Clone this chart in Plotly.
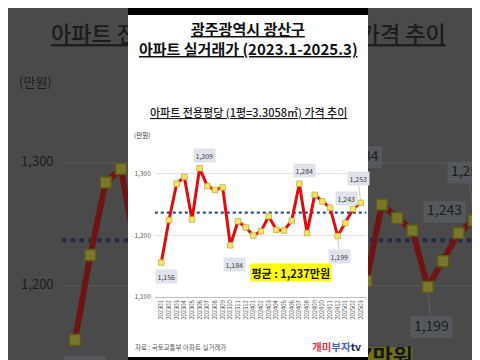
import plotly.graph_objects as go

# ---------------- data ----------------
months = ["202301", "202302", "202303", "202304", "202305", "202306", "202307", "202308", "202309",
          "202310", "202311", "202312", "202401", "202402", "202403", "202404", "202405", "202406",
          "202407", "202408", "202409", "202410", "202411", "202412", "202501", "202502", "202503"]
prices = [1156, 1225, 1284, 1295, 1226, 1309, 1280, 1274, 1278, 1184, 1223, 1213, 1200, 1207,
          1231, 1209, 1208, 1224, 1284, 1204, 1266, 1255, 1245, 1199, 1220, 1243, 1253]
y_tick_vals = [1100, 1200, 1300]
y_tick_text = ["1,100", "1,200", "1,300"]
title_lines = ["광주광역시 광산구", "아파트 실거래가 (2023.1-2025.3)"]
subtitle = "아파트 전용평당 (1평=3.3058㎡) 가격 추이"
unit_label = "(만원)"
source_text = "자료 : 국토교통부 아파트 실거래가"

# label placement (pixel offsets from the point; style only)
label_offsets = {"202301": (4.7, 13.7, False), "202306": (5.3, -13, False), "202310": (3.7, 18.7, False),
                 "202407": (5, -12.8, False), "202412": (1.8, 20.2, True), "202502": (-7, -10.8, False),
                 "202503": (-2.7, -24.3, True)}

FONT = "Noto Sans CJK KR"
W, H = 480, 360

# ---------------- geometry of main chart ----------------
X0, DX = 153.3, 7.67      # pixel of first category, pixels per category
YB, KY = 292.3, 0.623     # pixel of 1100, pixels per unit
XR = [-0.85, 26.75]
YR = [1100, 1340]
CX, CY = 239.6, 179.0     # background = 2x zoom: bg_px = 2*main_px - C

def ix(p): return (p - X0) / DX
def vy(p): return 1100 + (YB - p) / KY
def px_i(i): return X0 + DX * i
def py_v(v): return YB - KY * (v - 1100)
def bg2main(xc, yc): return ((xc + CX) / 2, (yc + CY) / 2)

idx = list(range(len(months)))
avg = round(sum(prices) / len(prices))

# colours
RED, MFILL, MEDGE = "#e00b0b", "#f6e46a", "#c4ac3c"
AVGC, GRID, AXIS = "#2f4e8c", "#e3e3e3", "#bfbfbf"
LBOX, LTXT, TTXT = "#dfe4eb", "#404040", "#595959"
BG, BG_RED, BG_MF, BG_ME = "#4a4a4a", "#6e1414", "#7a762a", "#5c581e"
BG_AVG, BG_GRID, BG_BOX, BG_TXT, BG_YEL = "#222c46", "#525252", "#55585d", "#1b1b1b", "#72720e"

fig = go.Figure()
bgax = dict(xaxis="x", yaxis="y", hoverinfo="skip", showlegend=False)

# ---------- blurred/zoomed background copy (x/y axes) ----------
for v in y_tick_vals:
    fig.add_trace(go.Scatter(x=XR, y=[v, v], mode="lines", line=dict(color=BG_GRID, width=1.6), **bgax))
fig.add_trace(go.Scatter(x=XR, y=[avg, avg], mode="lines",
                         line=dict(color=BG_AVG, width=4.4, dash="dot"), **bgax))
for m, (dx, dy, lead) in label_offsets.items():
    if lead:
        k = months.index(m)
        cx_, cy_ = ix(px_i(k) + dx), vy(py_v(prices[k]) + dy)
        fig.add_trace(go.Scatter(x=[k, cx_], y=[prices[k], cy_], mode="lines",
                                 line=dict(color="#5e5e5e", width=1.2), **bgax))
fig.add_trace(go.Scatter(x=idx, y=prices, mode="lines+markers",
                         line=dict(color=BG_RED, width=6),
                         marker=dict(symbol="square", size=11, color=BG_MF, line=dict(color=BG_ME, width=1.5)),
                         **bgax))
bx, by, tx, ty, tt = [], [], [], [], []
hw, hh = 10.5 / DX, 5.5 / KY
for m, (dx, dy, lead) in label_offsets.items():
    k = months.index(m)
    cx_, cy_ = ix(px_i(k) + dx), vy(py_v(prices[k]) + dy)
    bx += [cx_ - hw, cx_ + hw, cx_ + hw, cx_ - hw, cx_ - hw, None]
    by += [cy_ - hh, cy_ - hh, cy_ + hh, cy_ + hh, cy_ - hh, None]
    tx.append(cx_); ty.append(cy_); tt.append(f"{prices[k]:,}")
fig.add_trace(go.Scatter(x=bx, y=by, mode="lines", fill="toself", fillcolor=BG_BOX,
                         line=dict(width=0, color=BG_BOX), **bgax))
fig.add_trace(go.Scatter(x=tx, y=ty, mode="text", text=tt, textposition="middle center",
                         textfont=dict(family=FONT, size=14, color=BG_TXT), **bgax))
fig.add_trace(go.Scatter(x=[ix(142.6)] * 3, y=y_tick_vals, mode="text", text=y_tick_text,
                         textposition="middle left", textfont=dict(family=FONT, size=13, color=BG_TXT), **bgax))
fig.add_trace(go.Scatter(x=[ix(133.5)], y=[vy(128)], mode="text", text=[unit_label],
                         textposition="middle center", textfont=dict(family=FONT, size=13, color=BG_TXT), **bgax))
fig.add_trace(go.Scatter(x=[ix(240)], y=[vy(104)], mode="text", text=[subtitle],
                         textposition="middle center",
                         textfont=dict(family=FONT, size=22, color=BG_TXT, weight=500, lineposition="under"),
                         **bgax))
ahw, ahh = 39 / DX, 6 / KY
acx, acy = ix(283), vy(267)
fig.add_trace(go.Scatter(x=[acx - ahw, acx + ahw, acx + ahw, acx - ahw, acx - ahw],
                         y=[acy - ahh, acy - ahh, acy + ahh, acy + ahh, acy - ahh],
                         mode="lines", fill="toself", fillcolor=BG_YEL, line=dict(width=0, color=BG_YEL), **bgax))
fig.add_trace(go.Scatter(x=[acx], y=[acy], mode="text", text=[f"평균 : {avg:,}만원"],
                         textposition="middle center",
                         textfont=dict(family=FONT, size=22, color="#15152a", weight="bold"), **bgax))
# white panel
p0 = bg2main(120, -10); p1 = bg2main(360, 370)
fig.add_trace(go.Scatter(x=[ix(p0[0]), ix(p1[0]), ix(p1[0]), ix(p0[0]), ix(p0[0])],
                         y=[vy(p0[1]), vy(p0[1]), vy(p1[1]), vy(p1[1]), vy(p0[1])],
                         mode="lines", fill="toself", fillcolor="#ffffff", line=dict(width=0, color="#ffffff"),
                         **bgax))

# ---------- main chart (x2/y2) ----------
fig.add_trace(go.Scatter(x=XR, y=[avg, avg], mode="lines", xaxis="x2", yaxis="y2",
                         line=dict(color=AVGC, width=2.2, dash="dot"), hoverinfo="skip", showlegend=False))
fig.add_trace(go.Scatter(x=idx, y=prices, mode="lines+markers", xaxis="x2", yaxis="y2",
                         line=dict(color=RED, width=3),
                         marker=dict(symbol="square", size=5.5, color=MFILL, line=dict(color=MEDGE, width=0.8)),
                         hoverinfo="skip", showlegend=False))

ann = []
for m, (dx, dy, lead) in label_offsets.items():
    k = months.index(m)
    ann.append(dict(x=k, y=prices[k], xref="x2", yref="y2", text=f"{prices[k]:,}",
                    showarrow=True, ax=dx, ay=dy, arrowhead=0, arrowwidth=0.6, standoff=3,
                    arrowcolor="#a8a8a8" if lead else "rgba(0,0,0,0)",
                    bgcolor=LBOX, borderpad=1.5, font=dict(family=FONT, size=7, color=LTXT)))

def pann(x, y, text, font, xanchor="center", **kw):
    d = dict(x=x / W, y=1 - y / H, xref="paper", yref="paper", showarrow=False, text=text,
             xanchor=xanchor, yanchor="middle", font=font)
    d.update(kw)
    return d

ann.append(pann(283, 267, f"평균 : {avg:,}만원",
                dict(family=FONT, size=11, color="#15152a", weight="bold"), bgcolor="#ffff00", borderpad=0.5))
ann.append(pann(240, 21, title_lines[0],
                dict(family=FONT, size=15, color="#111111", weight="bold", lineposition="under")))
ann.append(pann(240, 41, title_lines[1],
                dict(family=FONT, size=15, color="#111111", weight="bold", lineposition="under")))
ann.append(pann(240, 105, subtitle,
                dict(family=FONT, size=11, color="#1a1a1a", weight=500, lineposition="under")))
ann.append(pann(133.5, 128, unit_label, dict(family=FONT, size=6.5, color="#262626")))
ann.append(pann(125, 342.5, source_text, dict(family=FONT, size=6.5, color=TTXT), xanchor="left"))
ann.append(pann(355, 342, "<span style='color:#e0354a'>개미</span><span style='color:#4d62cc'>부자</span>"
                          "<span style='color:#1c2350'>tv</span>",
                dict(family=FONT, size=10.5, weight="bold"), xanchor="right"))

shapes = [
    dict(type="rect", xref="paper", yref="paper", x0=120 / W, x1=360 / W, y0=1 - 7 / H, y1=1,
         fillcolor="#000000", line=dict(width=0), layer="above"),
    dict(type="rect", xref="paper", yref="paper", x0=120 / W, x1=360 / W, y0=0, y1=1 - 353 / H,
         fillcolor="#000000", line=dict(width=0), layer="above"),
]

fig.update_layout(
    width=W, height=H, autosize=False,
    margin=dict(l=0, r=0, t=0, b=0, pad=0),
    paper_bgcolor=BG, plot_bgcolor="rgba(0,0,0,0)",
    showlegend=False, hovermode=False,
    xaxis=dict(domain=[0, 1], range=[ix(bg2main(0, 0)[0]), ix(bg2main(W, 0)[0])], visible=False),
    yaxis=dict(domain=[0, 1], range=[vy(bg2main(0, H)[1]), vy(bg2main(0, 0)[1])], visible=False),
    xaxis2=dict(domain=[px_i(XR[0]) / W, px_i(XR[1]) / W], anchor="y2", range=XR,
                tickmode="array", tickvals=idx, ticktext=months, tickangle=-90,
                tickfont=dict(family=FONT, size=5.8, color=TTXT), ticks="",
                showline=True, linecolor=AXIS, linewidth=1, showgrid=False, zeroline=False),
    yaxis2=dict(domain=[1 - py_v(YR[0]) / H, 1 - py_v(YR[1]) / H], anchor="x2", range=YR,
                tickmode="array", tickvals=y_tick_vals, ticktext=y_tick_text,
                tickfont=dict(family=FONT, size=6.5, color=TTXT), ticks="", ticklabelstandoff=3,
                showgrid=True, gridcolor=GRID, gridwidth=0.8, showline=False, zeroline=False),
    annotations=ann, shapes=shapes,
)

fig.write_html("out.html")
